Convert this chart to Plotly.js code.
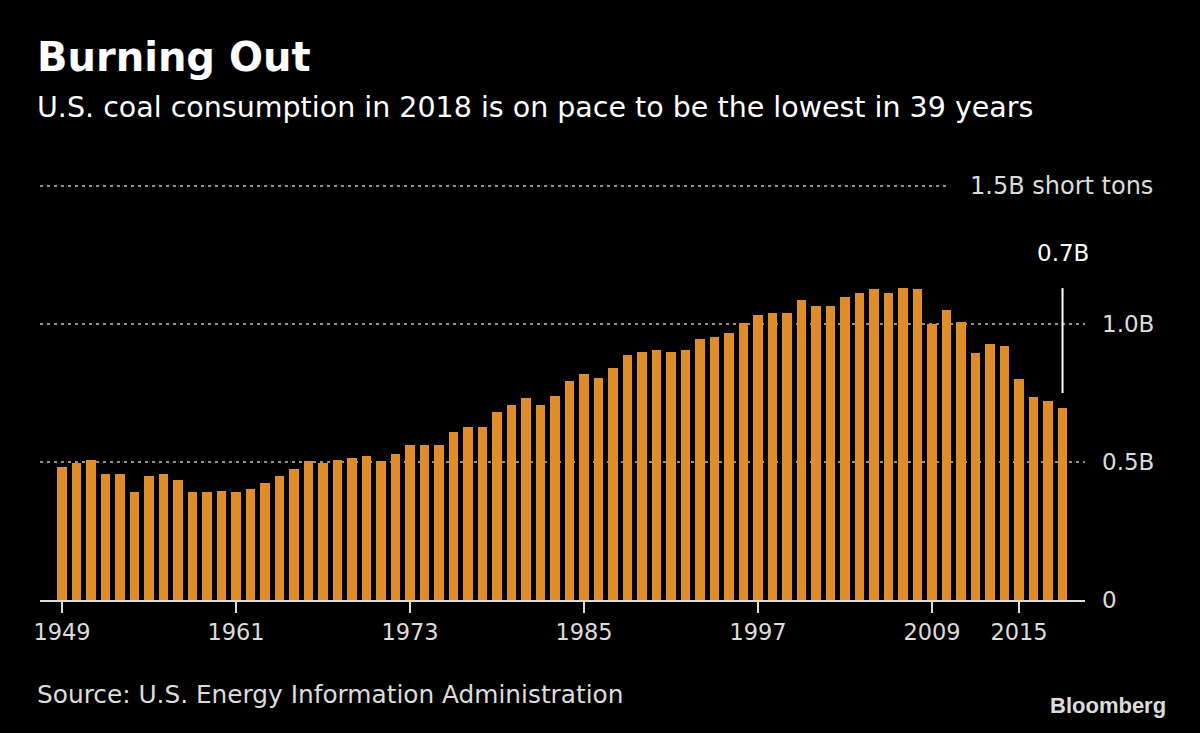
<!DOCTYPE html>
<html>
<head>
<meta charset="utf-8">
<script src="https://cdn.plot.ly/plotly-3.0.1.min.js"></script>
<style>
  html, body { margin: 0; padding: 0; background: #000; }
  #chart { width: 1200px; height: 733px; }
</style>
</head>
<body>
<div id="chart"></div>
<script>
// Data: U.S. coal consumption, billion short tons
const years = [];
for (let y = 1949; y <= 2018; y++) years.push(y);

const values1949_1958 = [0.482, 0.496, 0.508, 0.455, 0.455, 0.390, 0.449, 0.455, 0.436, 0.390];
const values1959_1968 = [0.390, 0.396, 0.390, 0.403, 0.423, 0.449, 0.476, 0.502, 0.496, 0.508];
const values1969_1978 = [0.514, 0.522, 0.502, 0.529, 0.561, 0.560, 0.560, 0.608, 0.627, 0.627];
const values1979_1988 = [0.681, 0.707, 0.733, 0.707, 0.740, 0.792, 0.820, 0.805, 0.839, 0.886];
const values1989_1998 = [0.899, 0.905, 0.899, 0.906, 0.946, 0.953, 0.966, 1.005, 1.033, 1.040];
const values1999_2008 = [1.040, 1.086, 1.065, 1.065, 1.099, 1.112, 1.126, 1.112, 1.132, 1.126];
const values2009_2018 = [0.999, 1.052, 1.006, 0.894, 0.926, 0.920, 0.801, 0.734, 0.721, 0.696];
const consumption = [].concat(values1949_1958, values1959_1968, values1969_1978,
  values1979_1988, values1989_1998, values1999_2008, values2009_2018);

const xTickYears = [1949, 1961, 1973, 1985, 1997, 2009, 2015];
const yTickVals = [0, 0.5, 1.0];
const yTickText = ['0', '0.5B', '1.0B'];
const topGridValue = 1.5;
const topGridLabel = '1.5B short tons';
const lastLabel = '0.7B';

const titleText = 'Burning Out';
const subtitleText = 'U.S. coal consumption in 2018 is on pace to be the lowest in 39 years';
const sourceText = 'Source: U.S. Energy Information Administration';

const FONT = '"DejaVu Sans", Verdana, sans-serif';
const ORANGE = '#DF8C2A';
const GRID = '#909090';
const TXT = '#dcdcdc';

const trace = {
  type: 'bar',
  x: years,
  y: consumption,
  width: 0.64,
  marker: { color: ORANGE, line: { width: 0 } },
  hoverinfo: 'x+y'
};

const lastYear = years[years.length - 1];
const lastVal = consumption[consumption.length - 1];

const dotLine = { color: GRID, width: 2, dash: '3px,4px' };

const layout = {
  width: 1200,
  height: 733,
  paper_bgcolor: '#000',
  plot_bgcolor: '#000',
  margin: { l: 40, r: 115, t: 158, b: 133 },
  showlegend: false,
  bargap: 0,
  xaxis: {
    range: [1947.48, 2019.55],
    tickvals: xTickYears,
    ticktext: xTickYears.map(String),
    ticks: 'outside',
    ticklen: 11,
    tickwidth: 2,
    tickcolor: TXT,
    showline: true,
    linecolor: TXT,
    linewidth: 2,
    showgrid: false,
    zeroline: false,
    tickfont: { family: FONT, size: 22.5, color: TXT },
    fixedrange: true
  },
  yaxis: {
    range: [0, 442 / 276],
    side: 'right',
    tickvals: yTickVals,
    ticktext: yTickText,
    ticks: '',
    ticklabelstandoff: 16,
    showgrid: false,
    zeroline: false,
    showline: false,
    tickfont: { family: FONT, size: 23, color: TXT },
    fixedrange: true
  },
  shapes: [
    { type: 'line', xref: 'paper', yref: 'y', x0: 0, x1: 1, y0: 0.5, y1: 0.5,
      line: dotLine, layer: 'below' },
    { type: 'line', xref: 'paper', yref: 'y', x0: 0, x1: 1, y0: 1.0, y1: 1.0,
      line: dotLine, layer: 'below' },
    { type: 'line', xref: 'paper', yref: 'y', x0: 0, x1: 0.871, y0: topGridValue, y1: topGridValue,
      line: dotLine, layer: 'below' },
    { type: 'line', xref: 'x', yref: 'y', x0: lastYear, x1: lastYear, y0: lastVal + 0.054, y1: 1.13,
      line: { color: '#ffffff', width: 2 } }
  ],
  annotations: [
    { text: '<b>' + titleText + '</b>', xref: 'paper', yref: 'paper', x: -0.0048, y: 1.2285,
      xanchor: 'left', yanchor: 'middle', showarrow: false,
      font: { family: FONT, size: 40, color: '#ffffff' } },
    { text: subtitleText, xref: 'paper', yref: 'paper', x: -0.0048, y: 1.115,
      xanchor: 'left', yanchor: 'middle', showarrow: false,
      font: { family: FONT, size: 28.5, color: '#ffffff' } },
    { text: topGridLabel, xref: 'paper', yref: 'y', x: 0.888, y: topGridValue,
      xanchor: 'left', yanchor: 'middle', showarrow: false,
      font: { family: FONT, size: 24, color: TXT } },
    { text: lastLabel, xref: 'x', yref: 'y', x: lastYear, y: 1.258,
      xanchor: 'center', yanchor: 'middle', showarrow: false,
      font: { family: FONT, size: 23, color: '#ffffff' } },
    { text: sourceText, xref: 'paper', yref: 'paper', x: -0.0048, y: -0.2127,
      xanchor: 'left', yanchor: 'middle', showarrow: false,
      font: { family: FONT, size: 24.8, color: TXT } },
    { text: '<b>Bloomberg</b>', xref: 'paper', yref: 'paper', x: 1.0794, y: -0.2398,
      xanchor: 'right', yanchor: 'middle', showarrow: false,
      font: { family: '"Liberation Sans", Arial, sans-serif', size: 22, color: TXT } }
  ]
};

Plotly.newPlot('chart', [trace], layout, { displayModeBar: false, staticPlot: true });
</script>
</body>
</html>
